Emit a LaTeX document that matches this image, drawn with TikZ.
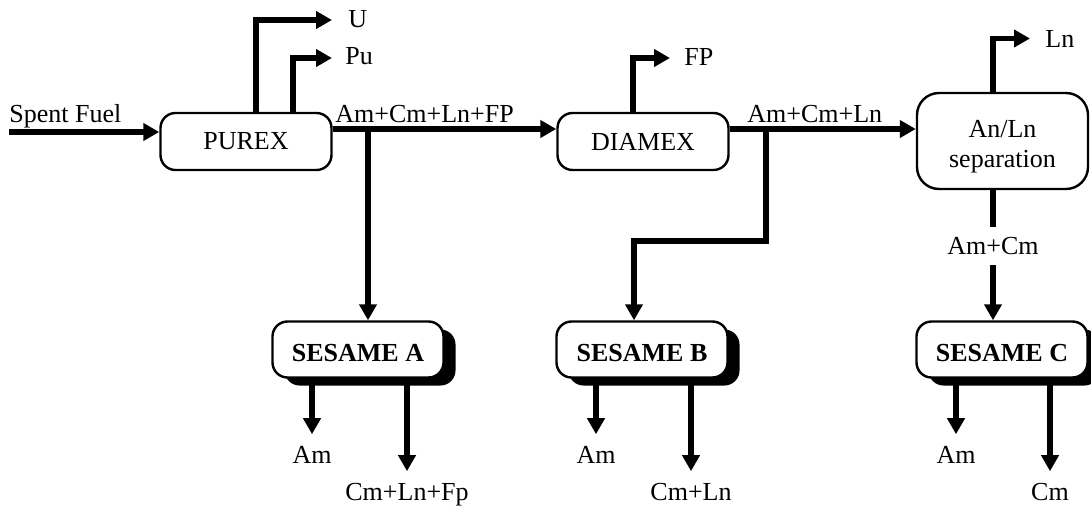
\documentclass[tikz,border=0pt]{standalone}
\usepackage{fontspec}
\setmainfont{Liberation Serif}
\usetikzlibrary{arrows.meta,shadows}
\begin{document}
\begin{tikzpicture}[x=0.5pt,y=-0.5pt, font=\fontsize{13}{15}\selectfont,
  proc/.style={draw, line width=1.2pt, rounded corners=7.5pt, minimum width=85.5pt, minimum height=28.5pt, inner sep=0pt, fill=white},
  sesame/.style={proc, font=\fontsize{13}{15}\selectfont\bfseries, minimum height=28pt, text height=12.1pt, text depth=0pt,
    drop shadow={shadow xshift=6pt, shadow yshift=-4pt, fill=black, opacity=1}},
  flow/.style={line width=2.75pt, -{Triangle[length=8pt,width=8.5pt]}},
  pipe/.style={line width=2.75pt},
  lbl/.style={inner sep=0pt},
  outlbl/.style={inner sep=0pt, outer ysep=5.8pt, anchor=base}]
\useasboundingbox (0,0) rectangle (1091,508);

% process boxes
\node[proc] (purex) at (246,141.5) {PUREX};
\node[proc] (diamex) at (643,141.5) {DIAMEX};
\node[proc, minimum height=48pt, rounded corners=11pt, align=center] (anln) at (1002.5,141) {\rule{0pt}{14pt}An/Ln\\separation};
\node[sesame] (sesA) at (358,349.5) {SESAME A};
\node[sesame] (sesB) at (642,349.5) {SESAME B};
\node[sesame] (sesC) at (1002,349.5) {SESAME C};

% helper coordinates
\coordinate (sfs) at (9,132);
\coordinate (m) at (0,129);
\coordinate (uc) at (256,20);
\coordinate (ut) at (332,20);
\coordinate (pc) at (293,58);
\coordinate (pt) at (332,58);
\coordinate (fc) at (633,58);
\coordinate (ft) at (670,58);
\coordinate (lc) at (993,38.5);
\coordinate (lt) at (1030,38.5);
\coordinate (ja) at (368,129);
\coordinate (jb) at (766,129);
\coordinate (kb) at (634,241);
\coordinate (sb) at (0,385);

% labels
\node[lbl, anchor=base west] (sf) at (9,122) {Spent Fuel};
\node[lbl, anchor=base west] (ul) at (348,28) {U};
\node[lbl, anchor=base west] (pul) at (345,65) {Pu};
\node[lbl, anchor=base west] (l1) at (335,123) {Am+Cm+Ln+FP};
\node[lbl, anchor=base west] (fpl) at (684,66) {FP};
\node[lbl, anchor=base west] (l2) at (747,122) {Am+Cm+Ln};
\node[lbl, anchor=base west] (lnl) at (1045,48) {Ln};
\node[lbl, minimum height=18.5pt] (amcm) at (993,246) {Am+Cm};

\node[outlbl] (amA) at (312,463) {Am};
\node[outlbl] (restA) at (407,500) {Cm+Ln+Fp};
\node[outlbl] (amB) at (596,463) {Am};
\node[outlbl] (restB) at (691,500) {Cm+Ln};
\node[outlbl] (amC) at (956,463) {Am};
\node[outlbl] (restC) at (1050,500) {Cm};

% connectors
\draw[flow] (sfs) -- (purex.west |- sfs);
\draw[flow] (purex.north -| uc) |- (ut);
\draw[flow] (purex.north -| pc) |- (pt);
\draw[flow] (purex.east |- m) -- (diamex.west |- m);
\draw[flow] (ja) -- (ja |- sesA.north);
\draw[flow] (diamex.north -| fc) |- (ft);
\draw[flow] (diamex.east |- m) -- (anln.west |- m);
\draw[flow] (jb) |- (kb) -- (kb |- sesB.north);
\draw[flow] (anln.north -| lc) |- (lt);
\draw[pipe] (amcm.north |- anln.south) -- (amcm.north);
\draw[flow] (amcm.south) -- (amcm.south |- sesC.north);

\draw[flow] (amA.north |- sb) -- (amA.north);
\draw[flow] (restA.north |- sb) -- (restA.north);
\draw[flow] (amB.north |- sb) -- (amB.north);
\draw[flow] (restB.north |- sb) -- (restB.north);
\draw[flow] (amC.north |- sb) -- (amC.north);
\draw[flow] (restC.north |- sb) -- (restC.north);
\end{tikzpicture}
\end{document}
